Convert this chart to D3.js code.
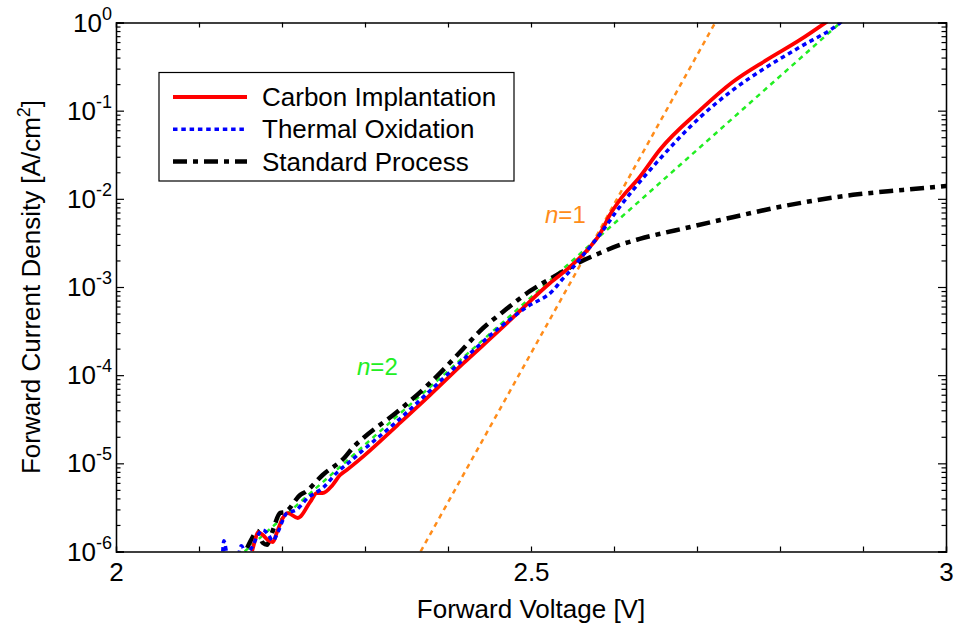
<!DOCTYPE html>
<html>
<head>
<meta charset="utf-8">
<script src="https://cdn.jsdelivr.net/npm/d3@7"></script>
<style>
  body { margin: 0; background: #fff; }
  text { font-family: "Liberation Sans", Arial, Helvetica, sans-serif; }
</style>
</head>
<body>
<div id="chart"></div>
<script>
// data: forward voltage [V] / current density [A/cm2]
const carbonV = [2.164, 2.167, 2.171, 2.177, 2.183, 2.189, 2.194, 2.201, 2.207, 2.219, 2.234, 2.242, 2.249, 2.261, 2.270, 2.278,
  2.298, 2.339, 2.378, 2.418, 2.463, 2.487, 2.523, 2.547, 2.571, 2.583, 2.595, 2.607, 2.631, 2.655, 2.704, 2.743, 2.784, 2.824, 2.857];
const carbonJ = [1.01e-6, 1.28e-6, 1.66e-6, 1.54e-6, 1.35e-6, 1.28e-6, 1.66e-6, 2.40e-6, 2.73e-6, 2.40e-6, 3.65e-6, 4.61e-6, 4.61e-6, 5.69e-6, 7.38e-6, 8.41e-6,
  1.20e-5, 2.70e-5, 5.9e-5, 1.35e-4, 3.3e-4, 5.4e-4, 1.11e-3, 1.69e-3, 2.84e-3, 3.99e-3, 6.56e-3, 9.70e-3, 1.77e-2, 3.58e-2, 0.102, 0.211, 0.376, 0.634, 1.03];

const thermalV = [2.128, 2.130, 2.135, 2.146, 2.151, 2.157, 2.164, 2.171, 2.177, 2.183, 2.189, 2.195, 2.206, 2.217, 2.231, 2.249, 2.267, 2.280,
  2.298, 2.339, 2.378, 2.418, 2.463, 2.495, 2.527, 2.537, 2.547, 2.555, 2.565, 2.575, 2.587, 2.604, 2.623, 2.652, 2.704, 2.743, 2.784, 2.824, 2.872, 2.878];
const thermalJ = [8.0e-7, 1.32e-6, 8.4e-7, 8.4e-7, 1.16e-6, 9.4e-7, 1.13e-6, 1.54e-6, 1.75e-6, 1.58e-6, 1.32e-6, 1.66e-6, 2.74e-6, 2.96e-6, 4.05e-6, 5.25e-6, 7.98e-6, 1.01e-5,
  1.42e-5, 3.02e-5, 6.62e-5, 1.49e-4, 3.52e-4, 5.93e-4, 9.25e-4, 1.20e-3, 1.52e-3, 1.87e-3, 2.43e-3, 3.16e-3, 4.44e-3, 7.46e-3, 1.26e-2, 2.62e-2, 8.47e-2, 0.171, 0.313, 0.527, 0.986, 1.1];

const standardV = [2.158, 2.164, 2.170, 2.177, 2.182, 2.187, 2.198, 2.204, 2.222, 2.228, 2.249, 2.276, 2.286, 2.298, 2.339, 2.378, 2.418, 2.439,
  2.466, 2.499, 2.527, 2.559, 2.583, 2.607, 2.631, 2.692, 2.728, 2.808, 2.888, 2.948, 3.001];
const standardJ = [1.10e-6, 1.42e-6, 1.71e-6, 1.25e-6, 1.19e-6, 1.54e-6, 2.74e-6, 2.81e-6, 4.38e-6, 4.73e-6, 7.38e-6, 1.18e-5, 1.53e-5, 1.94e-5, 3.85e-5, 8.1e-5, 1.98e-4, 3.2e-4,
  5.21e-4, 9.02e-4, 1.30e-3, 1.92e-3, 2.43e-3, 3.00e-3, 3.51e-3, 4.80e-3, 5.75e-3, 8.4e-3, 1.11e-2, 1.26e-2, 1.40e-2];

// ideality guide lines (end points)
const n1V = [2.367, 2.722];
const n1J = [1e-6, 1];
const n2V = [2.155, 2.873];
const n2J = [1e-6, 1];

const xTickValues = [2, 2.1, 2.2, 2.3, 2.4, 2.5, 2.6, 2.7, 2.8, 2.9, 3];
const xTickLabels = ["2", "", "", "", "", "2.5", "", "", "", "", "3"];
const yDecades = [-6, -5, -4, -3, -2, -1, 0];
const legendNames = ["Carbon Implantation", "Thermal Oxidation", "Standard Process"];

const width = 956, height = 635;
const plotLeft = 116, plotRight = 946, plotTop = 22.5, plotBottom = 551.5;

const svg = d3.select("#chart").append("svg")
  .attr("width", width)
  .attr("height", height);

const x = d3.scaleLinear().domain([2, 3]).range([plotLeft, plotRight]);
const y = d3.scaleLog().domain([1e-6, 1]).range([plotBottom, plotTop]);

svg.append("clipPath").attr("id", "plotclip")
  .append("rect")
    .attr("x", plotLeft).attr("y", plotTop)
    .attr("width", plotRight - plotLeft).attr("height", plotBottom - plotTop);

const plot = svg.append("g").attr("clip-path", "url(#plotclip)");

const line = d3.line().curve(d3.curveMonotoneX).x(d => x(d[0])).y(d => y(d[1]));
const zipped = (vs, js) => vs.map((v, i) => [v, js[i]]);

const series = [
  { v: n2V, j: n2J, color: "#22ee22", width: 2.5, dash: "5,4.5" },
  { v: n1V, j: n1J, color: "#ff8c1a", width: 2.5, dash: "5,4.5" },
  { v: standardV, j: standardJ, color: "#000", width: 4.5, dash: "14,6,5,6" },
  { v: thermalV, j: thermalJ, color: "#0000ff", width: 3.5, dash: "4.5,3.8" },
  { v: carbonV, j: carbonJ, color: "#ff0000", width: 3.8, dash: null }
];
// draw order: guides, black, red, then blue dots on top
const order = [0, 1, 2, 4, 3];
order.forEach(k => {
  const s = series[k];
  plot.append("path")
    .datum(zipped(s.v, s.j))
    .attr("fill", "none")
    .attr("stroke", s.color)
    .attr("stroke-width", s.width)
    .attr("stroke-dasharray", s.dash)
    .attr("stroke-linejoin", "round")
    .attr("d", line);
});

// axes, ticks pointing inward
const gx = svg.append("g")
  .attr("transform", "translate(0," + plotBottom + ")")
  .call(d3.axisBottom(x).tickValues(xTickValues).tickSize(-5).tickPadding(11)
    .tickFormat((d, i) => xTickLabels[i]));
gx.selectAll("text").attr("font-size", "26px").attr("fill", "#000").attr("dy", "0.71em");

svg.append("g")
  .attr("transform", "translate(0," + plotTop + ")")
  .call(d3.axisTop(x).tickValues(xTickValues).tickSize(-5).tickFormat(""));

const yMajor = yDecades.map(e => Math.pow(10, e));
const yMinor = [];
yDecades.slice(0, -1).forEach(e => {
  for (let m = 2; m <= 9; m++) yMinor.push(m * Math.pow(10, e));
});

[[d3.axisLeft, plotLeft], [d3.axisRight, plotRight]].forEach(([ax, pos]) => {
  svg.append("g").attr("transform", "translate(" + pos + ",0)")
    .call(ax(y).tickValues(yMajor).tickSize(-8).tickFormat(""));
  svg.append("g").attr("transform", "translate(" + pos + ",0)")
    .call(ax(y).tickValues(yMinor).tickSize(-4.5).tickFormat(""));
});

svg.selectAll(".domain").attr("stroke", "#000").attr("stroke-width", 1.3);
svg.selectAll(".tick line").attr("stroke", "#000").attr("stroke-width", 1.2);

// y tick labels 10^n
const ylab = svg.append("g");
yDecades.forEach(e => {
  const t = ylab.append("text")
    .attr("x", plotLeft - 4)
    .attr("y", y(Math.pow(10, e)) + 9)
    .attr("text-anchor", "end")
    .attr("font-size", "26px");
  t.append("tspan").text("10");
  t.append("tspan").attr("dy", -12).attr("font-size", "18px").text(String(e));
});

// axis titles
svg.append("text")
  .attr("x", (plotLeft + plotRight) / 2)
  .attr("y", 618)
  .attr("text-anchor", "middle")
  .attr("font-size", "26px")
  .text("Forward Voltage [V]");

const ytitle = svg.append("text")
  .attr("transform", "translate(40," + ((plotTop + plotBottom) / 2) + ") rotate(-90)")
  .attr("text-anchor", "middle")
  .attr("font-size", "26px");
ytitle.append("tspan").text("Forward Current Density [A/cm");
ytitle.append("tspan").attr("dy", -10).attr("font-size", "18px").text("2");
ytitle.append("tspan").attr("dy", 10).text("]");

// n labels
const n1 = svg.append("text").attr("x", 545).attr("y", 223).attr("font-size", "24px").attr("fill", "#ff8c1a");
n1.append("tspan").attr("font-style", "italic").text("n");
n1.append("tspan").text("=1");
const n2 = svg.append("text").attr("x", 357).attr("y", 375).attr("font-size", "24px").attr("fill", "#22ee22");
n2.append("tspan").attr("font-style", "italic").text("n");
n2.append("tspan").text("=2");

// legend
const legend = svg.append("g").attr("transform", "translate(159,72.5)");
legend.append("rect")
  .attr("width", 355).attr("height", 108.5)
  .attr("fill", "#fff").attr("stroke", "#000").attr("stroke-width", 1.2);
const legendSeries = [series[4], series[3], series[2]];
legendNames.forEach((name, i) => {
  const yy = 24.5 + i * 32.3;
  const s = legendSeries[i];
  legend.append("line")
    .attr("x1", 14).attr("x2", 88).attr("y1", yy).attr("y2", yy)
    .attr("stroke", s.color).attr("stroke-width", s.width)
    .attr("stroke-dasharray", s.dash);
  legend.append("text")
    .attr("x", 103).attr("y", yy + 9)
    .attr("font-size", "26px")
    .text(name);
});
</script>
</body>
</html>
